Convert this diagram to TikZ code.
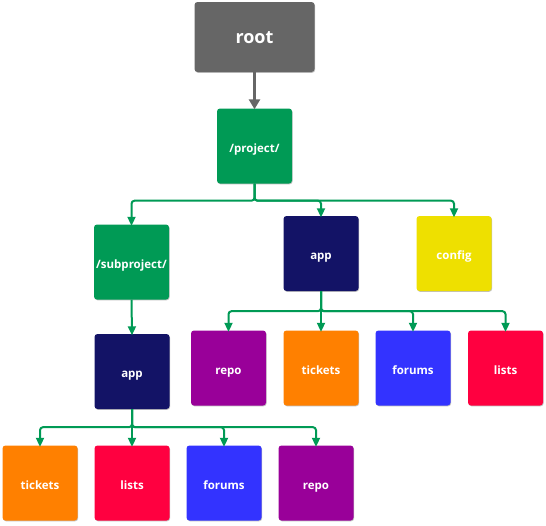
\documentclass[tikz,border=0pt]{standalone}
\usepackage{fontspec}
\setmainfont{Open Sans}
\usetikzlibrary{arrows.meta,shadows}
\definecolor{cgray}{HTML}{666666}
\definecolor{cgreen}{HTML}{009A55}
\definecolor{cnavy}{HTML}{131366}
\definecolor{cyellow}{HTML}{EEE000}
\definecolor{cpurple}{HTML}{990099}
\definecolor{corange}{HTML}{FF8000}
\definecolor{cred}{HTML}{FF0040}
\definecolor{cblue}{HTML}{3333FF}
\tikzset{
  box/.style={rounded corners=3pt, minimum width=75pt, minimum height=75pt, inner sep=0pt,
    text=white, font=\bfseries\fontsize{11.5}{13}\selectfont, text height=12pt, text depth=0pt,
    drop shadow={shadow xshift=0.6pt, shadow yshift=-0.8pt, opacity=0.25, fill=black}},
  conn/.style={draw=cgreen, line width=2pt, rounded corners=3pt, -{Triangle[width=8pt,length=9pt]}},
}
\begin{document}
\begin{tikzpicture}[x=1pt,y=-1pt]
\useasboundingbox (0,0) rectangle (546,525);
\node[box, fill=cgray, minimum width=120pt, minimum height=70pt, font=\bfseries\fontsize{18}{20}\selectfont, text height=12.5pt] (root) at (254.5,37) {root};
\node[box, fill=cgreen] (project) at (254.5,146) {/project/};
\node[box, fill=cgreen] (sub) at (131.5,262) {/subproject/};
\node[box, fill=cnavy] (app) at (321,253.5) {app};
\node[box, fill=cyellow] (config) at (454,253.5) {config};
\node[box, fill=cnavy] (app2) at (132,371.5) {app};
\node[box, fill=cpurple] (repoA) at (228.5,368) {repo};
\node[box, fill=corange] (ticketsA) at (321,368) {tickets};
\node[box, fill=cblue] (forumsA) at (413,368) {forums};
\node[box, fill=cred] (listsA) at (505.5,368) {lists};
\node[box, fill=corange] (ticketsB) at (40,483) {tickets};
\node[box, fill=cred] (listsB) at (132,483) {lists};
\node[box, fill=cblue] (forumsB) at (224,483) {forums};
\node[box, fill=cpurple] (repoB) at (316,483) {repo};

\draw[draw=cgray, line width=3pt, -{Triangle[width=11pt,length=10pt]}] (root.south) -- ([yshift=-1pt]project.north);

\foreach \c in {sub,app,config}
  \draw[conn] (project.south) |- ([yshift=-17pt]project.south -| \c.north) -- ([yshift=-1.5pt]\c.north);
\foreach \c in {repoA,ticketsA,forumsA,listsA}
  \draw[conn] (app.south) |- ([yshift=-20pt]app.south -| \c.north) -- ([yshift=-1.5pt]\c.north);
\draw[conn] (sub.south) -- ([yshift=-1.5pt]app2.north);
\foreach \c in {ticketsB,listsB,forumsB,repoB}
  \draw[conn] (app2.south) |- ([yshift=-18pt]app2.south -| \c.north) -- ([yshift=-1.5pt]\c.north);
\end{tikzpicture}
\end{document}
